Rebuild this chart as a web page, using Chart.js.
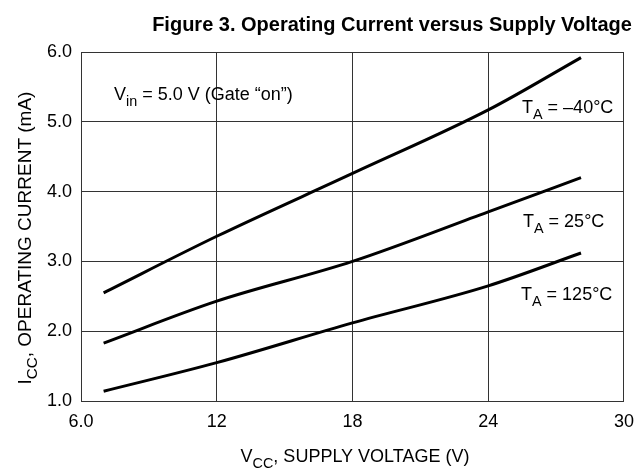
<!DOCTYPE html>
<html><head><meta charset="utf-8">
<script src="https://cdn.jsdelivr.net/npm/chart.js@4"></script>
<style>html,body{margin:0;padding:0;background:#fff}#wrap{width:644px;height:469px}</style>
</head><body><div id="wrap"><canvas id="c" width="644" height="469"></canvas></div>
<script>
const vcc = [7, 12, 18, 24, 28.1];
const iccM40 = [2.55, 3.36, 4.26, 5.17, 5.92];
const icc25 = [1.83, 2.43, 3.0, 3.71, 4.2];
const icc125 = [1.14, 1.55, 2.12, 2.65, 3.12];
const xTicks = [6, 12, 18, 24, 30];
const xTickLabels = ['6.0', '12', '18', '24', '30'];
const yTickLabels = ['1.0', '2.0', '3.0', '4.0', '5.0', '6.0'];
const FONT = '"Liberation Sans", Arial, sans-serif';

function pts(ys){ return vcc.map((x,i)=>({x:x,y:ys[i]})); }

function drawParts(ctx, parts, x, y, size){
  let cx = x;
  for (const [t, sub] of parts){
    ctx.font = (sub ? size*0.8 : size) + 'px ' + FONT;
    ctx.fillText(t, cx, sub ? y + size*0.33 : y);
    cx += ctx.measureText(t).width;
  }
  return cx - x;
}
function measureParts(ctx, parts, size){
  let w = 0;
  for (const [t, sub] of parts){ ctx.font = (sub ? size*0.8 : size) + 'px ' + FONT; w += ctx.measureText(t).width; }
  return w;
}

const textPlugin = {
  id: 'texts',
  afterDraw(chart){
    const ctx = chart.ctx;
    ctx.save();
    ctx.fillStyle = '#000';
    ctx.textBaseline = 'alphabetic';
    // title
    ctx.font = 'bold 20px ' + FONT;
    ctx.textAlign = 'center';
    ctx.fillText('Figure 3. Operating Current versus Supply Voltage', 392, 31);
    ctx.textAlign = 'left';
    // x axis title
    const xp = [['V',false],['CC',true],[', SUPPLY VOLTAGE (V)',false]];
    const xw = measureParts(ctx, xp, 18);
    drawParts(ctx, xp, 355 - xw/2, 462, 18);
    // y axis title
    const yp = [['I',false],['CC',true],[', OPERATING CURRENT (mA)',false]];
    const yw = measureParts(ctx, yp, 19);
    ctx.save();
    ctx.translate(31, 238);
    ctx.rotate(-Math.PI/2);
    drawParts(ctx, yp, -yw/2, 0, 19);
    ctx.restore();
    // annotations
    drawParts(ctx, [['V',false],['in',true],[' = 5.0 V (Gate \u201Con\u201D)',false]], 114, 100, 18);
    drawParts(ctx, [['T',false],['A',true],[' = \u201340\u00B0C',false]], 522, 113, 18);
    drawParts(ctx, [['T',false],['A',true],[' = 25\u00B0C',false]], 523, 227, 18);
    drawParts(ctx, [['T',false],['A',true],[' = 125\u00B0C',false]], 521, 300, 18);
    ctx.restore();
  }
};

const ds = (d)=>({data: pts(d), borderColor:'#000', borderWidth:3, pointRadius:0, fill:false, cubicInterpolationMode:'monotone', borderCapStyle:'butt'});

new Chart(document.getElementById('c'), {
  type: 'line',
  data: { datasets: [ds(iccM40), ds(icc25), ds(icc125)] },
  options: {
    responsive: false,
    animation: false,
    devicePixelRatio: 1,
    layout: { padding: { left: 0, right: 20, top: 52, bottom: 0 } },
    plugins: { legend: {display:false}, tooltip: {enabled:false}, title:{display:false} },
    scales: {
      x: {
        type: 'linear', min: 6, max: 30,
        afterBuildTicks(s){ s.ticks = xTicks.map(v=>({value:v})); },
        afterFit(s){ s.height = 68; },
        ticks: { color:'#000', font:{family:FONT, size:18}, padding:10, maxRotation:0,
          callback(v){ const i = xTicks.indexOf(v); return i>=0 ? xTickLabels[i] : ''; } },
        grid: { color:'#333', lineWidth:1, drawTicks:false },
        border: { color:'#333', width:1 }
      },
      y: {
        min: 1, max: 6,
        ticks: { stepSize:1, color:'#000', font:{family:FONT, size:18}, padding:9,
          callback(v){ const i = Math.round(v-1); return yTickLabels[i] ?? ''; } },
        afterFit(s){ s.width = 81; },
        grid: { color:'#333', lineWidth:1, drawTicks:false },
        border: { color:'#333', width:1 }
      }
    }
  },
  plugins: [textPlugin]
});
</script>
</body></html>
